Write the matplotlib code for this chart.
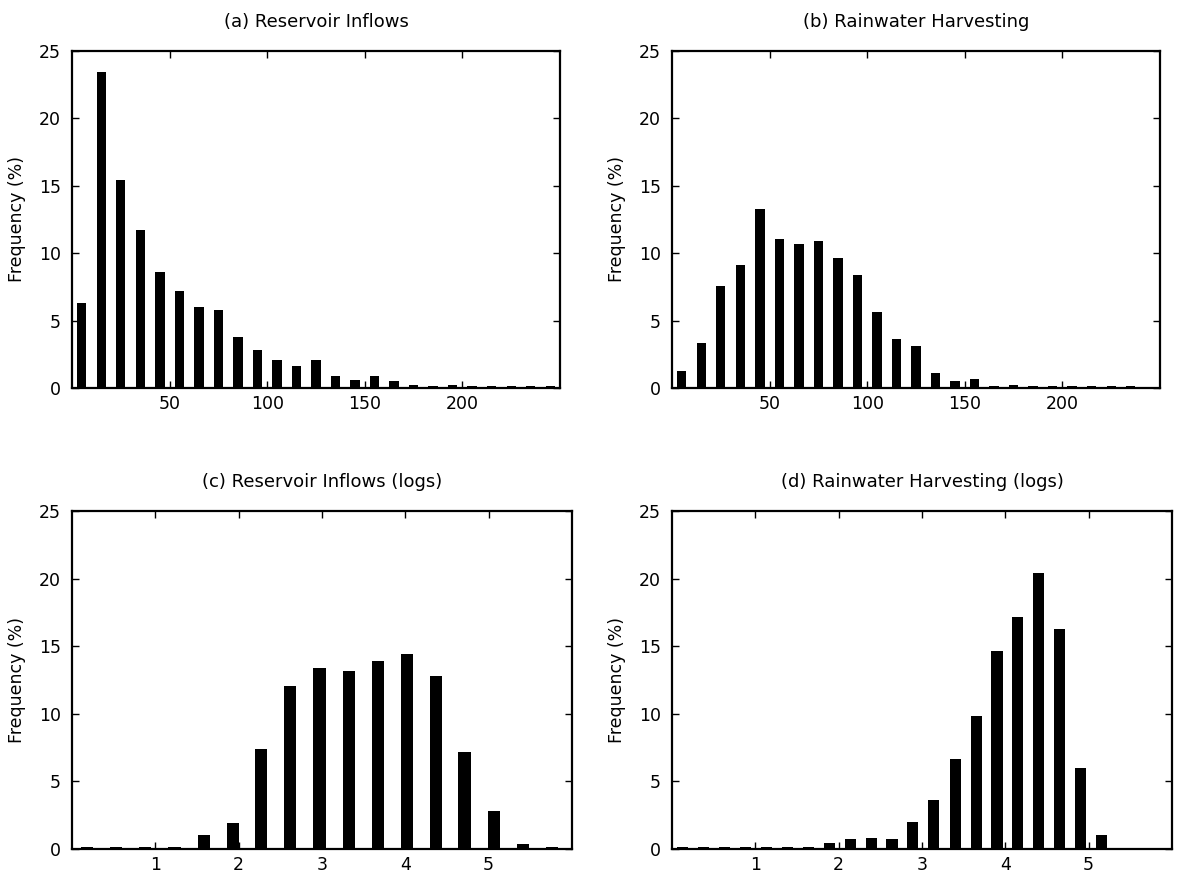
import numpy as np
import matplotlib
matplotlib.use('Agg')
import matplotlib.pyplot as plt

#==============================================================================
# data (frequencies in %)
#==============================================================================

centers_a = [5, 15, 25, 35, 45, 55, 65, 75, 85, 95, 105, 115, 125, 135, 145,
             155, 165, 175, 185, 195, 205, 215, 225, 235, 245]
freq_a = [6.32, 23.43, 15.41, 11.73, 8.64, 7.16, 6.02, 5.75, 3.78, 2.81, 2.05,
          1.65, 2.05, 0.89, 0.59, 0.89, 0.49, 0.22, 0.12, 0.22, 0.12, 0.12,
          0.12, 0.12, 0.12]

centers_b = [5, 15, 25, 35, 45, 55, 65, 75, 85, 95, 105, 115, 125, 135, 145,
             155, 165, 175, 185, 195, 205, 215, 225, 235]
freq_b = [1.28, 3.31, 7.58, 9.09, 13.26, 11.04, 10.67, 10.94, 9.68, 8.35, 5.63,
          3.60, 3.11, 1.09, 0.49, 0.69, 0.12, 0.22, 0.12, 0.12, 0.12, 0.12,
          0.12, 0.12]

centers_c = [0.18, 0.53, 0.88, 1.23, 1.58, 1.93, 2.27, 2.62, 2.97, 3.32, 3.67,
             4.02, 4.37, 4.71, 5.06, 5.41, 5.76]
freq_c = [0.12, 0.12, 0.12, 0.12, 1.06, 1.89, 7.41, 12.06, 13.39, 13.16, 13.90,
          14.44, 12.80, 7.16, 2.81, 0.37, 0.15]

centers_d = [0.13, 0.38, 0.63, 0.88, 1.13, 1.39, 1.64, 1.89, 2.14, 2.39, 2.64,
             2.89, 3.14, 3.40, 3.65, 3.90, 4.15, 4.40, 4.65, 4.90, 5.15]
freq_d = [0.15, 0.15, 0.15, 0.15, 0.15, 0.12, 0.12, 0.47, 0.76, 0.84, 0.76,
          2.02, 3.64, 6.64, 9.82, 14.64, 17.13, 20.40, 16.26, 5.98, 1.06]

titles = ['(a) Reservoir Inflows', '(b) Rainwater Harvesting',
          '(c) Reservoir Inflows (logs)', '(d) Rainwater Harvesting (logs)']
yticks = [0, 5, 10, 15, 20, 25]
xticks_top = [50, 100, 150, 200]
xticks_bot = [1, 2, 3, 4, 5]

#==============================================================================
# figure
#==============================================================================

plt.rcParams['font.family'] = ['DejaVu Sans']
fig = plt.figure(figsize=(11.77, 8.77), dpi=100)

W, H = 1177.0, 877.0
def box(left, top, right, bottom):
    return [left / W, 1 - bottom / H, (right - left) / W, (bottom - top) / H]

panels = [
    (box(72, 51, 560, 388), centers_a, freq_a, 4.8, (0, 250), xticks_top),
    (box(672, 51, 1160, 388), centers_b, freq_b, 4.8, (0, 250), xticks_top),
    (box(72, 511, 572, 849), centers_c, freq_c, 0.145, (0, 6), xticks_bot),
    (box(672, 511, 1172, 849), centers_d, freq_d, 0.135, (0, 6), xticks_bot),
]

for (pos, xc, fr, bw, xlim, xt), title in zip(panels, titles):
    ax = fig.add_axes(pos)
    ax.bar(xc, fr, width=bw, color='black', edgecolor='none')
    ax.set_xlim(*xlim)
    ax.set_ylim(0, 25)
    ax.set_xticks(xt)
    ax.set_yticks(yticks)
    ax.tick_params(direction='in', length=5, width=1, top=True, right=True,
                   labelsize=12.5, pad=8, colors='black')
    ax.tick_params(axis='x', pad=5)
    for sp in ax.spines.values():
        sp.set_linewidth(1.6)
    ax.set_ylabel('Frequency (%)', fontsize=12.5, labelpad=9)
    ax.set_title(title, fontsize=13, pad=17)

plt.savefig('out.png', dpi=100)
